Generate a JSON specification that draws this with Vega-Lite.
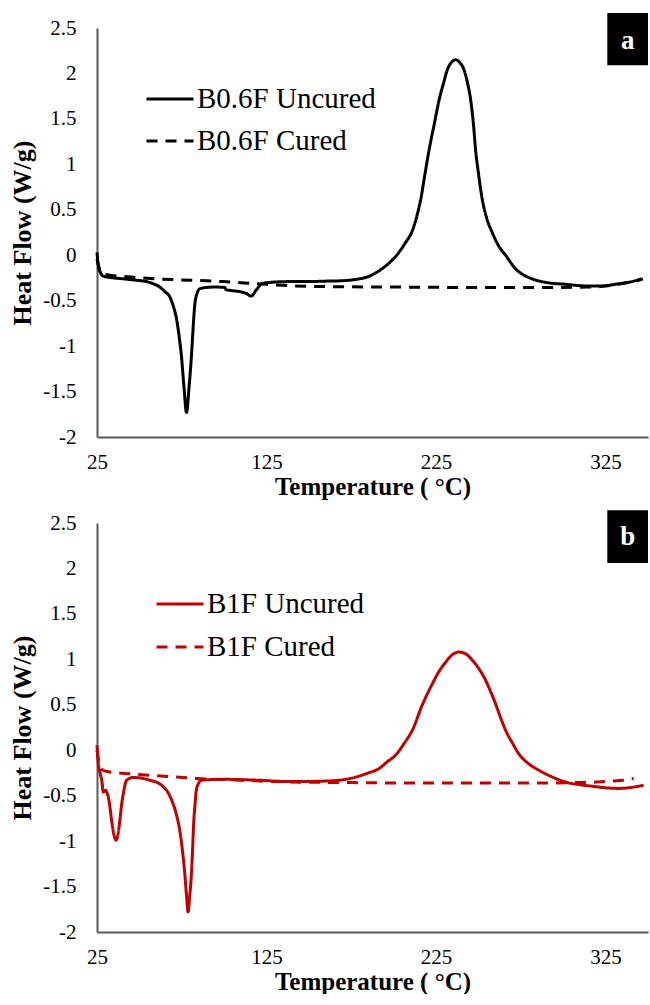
{
  "$schema": "https://vega.github.io/schema/vega-lite/v6.json",
  "background": "white",
  "padding": {"left": 9, "top": 13, "right": 0, "bottom": 0},
  "bounds": "flush",
  "spacing": 86,
  "config": {
    "view": {"stroke": null},
    "font": "Liberation Serif",
    "axis": {
      "grid": false, "ticks": false, "tickSize": 0,
      "domainColor": "#595959", "domainWidth": 2,
      "labelFont": "Liberation Serif", "labelFontSize": 21, "labelColor": "black", "labelFlush": false,
      "titleFont": "Liberation Serif", "titleFontSize": 25, "titleFontWeight": "bold", "titleColor": "black"
    },
    "axisX": {"labelPadding": 14, "titlePadding": 2},
    "axisY": {"labelPadding": 21, "titlePadding": 7, "titleFontSize": 26},
    "legend": {
      "orient": "none", "padding": 0, "labelLimit": 0,
      "labelFont": "Liberation Serif", "labelFontSize": 29, "labelColor": "black",
      "symbolType": "stroke", "symbolStrokeWidth": 3, "symbolSize": 2209, "labelOffset": 2
    }
  },
  "data": {"values": [
    {"p":"a","s":"B0.6F Uncured","T":25,"HF":0.03},
    {"p":"a","s":"B0.6F Uncured","T":25.8,"HF":-0.12},
    {"p":"a","s":"B0.6F Uncured","T":27,"HF":-0.19},
    {"p":"a","s":"B0.6F Uncured","T":28.7,"HF":-0.23},
    {"p":"a","s":"B0.6F Uncured","T":33,"HF":-0.245},
    {"p":"a","s":"B0.6F Uncured","T":40.5,"HF":-0.26},
    {"p":"a","s":"B0.6F Uncured","T":48,"HF":-0.275},
    {"p":"a","s":"B0.6F Uncured","T":54.2,"HF":-0.29},
    {"p":"a","s":"B0.6F Uncured","T":59,"HF":-0.32},
    {"p":"a","s":"B0.6F Uncured","T":62,"HF":-0.35},
    {"p":"a","s":"B0.6F Uncured","T":65,"HF":-0.4},
    {"p":"a","s":"B0.6F Uncured","T":68,"HF":-0.46},
    {"p":"a","s":"B0.6F Uncured","T":70,"HF":-0.56},
    {"p":"a","s":"B0.6F Uncured","T":71.9,"HF":-0.7},
    {"p":"a","s":"B0.6F Uncured","T":73.5,"HF":-0.9},
    {"p":"a","s":"B0.6F Uncured","T":74.8,"HF":-1.11},
    {"p":"a","s":"B0.6F Uncured","T":76.3,"HF":-1.45},
    {"p":"a","s":"B0.6F Uncured","T":77.8,"HF":-1.73},
    {"p":"a","s":"B0.6F Uncured","T":79.3,"HF":-1.45},
    {"p":"a","s":"B0.6F Uncured","T":80.7,"HF":-1.11},
    {"p":"a","s":"B0.6F Uncured","T":81.7,"HF":-0.8},
    {"p":"a","s":"B0.6F Uncured","T":82.6,"HF":-0.56},
    {"p":"a","s":"B0.6F Uncured","T":84,"HF":-0.42},
    {"p":"a","s":"B0.6F Uncured","T":85.6,"HF":-0.37},
    {"p":"a","s":"B0.6F Uncured","T":89.5,"HF":-0.355},
    {"p":"a","s":"B0.6F Uncured","T":95,"HF":-0.35},
    {"p":"a","s":"B0.6F Uncured","T":100.3,"HF":-0.355},
    {"p":"a","s":"B0.6F Uncured","T":101.2,"HF":-0.38},
    {"p":"a","s":"B0.6F Uncured","T":105,"HF":-0.39},
    {"p":"a","s":"B0.6F Uncured","T":109.1,"HF":-0.4},
    {"p":"a","s":"B0.6F Uncured","T":113,"HF":-0.42},
    {"p":"a","s":"B0.6F Uncured","T":116,"HF":-0.45},
    {"p":"a","s":"B0.6F Uncured","T":119,"HF":-0.38},
    {"p":"a","s":"B0.6F Uncured","T":122.8,"HF":-0.31},
    {"p":"a","s":"B0.6F Uncured","T":130,"HF":-0.295},
    {"p":"a","s":"B0.6F Uncured","T":140,"HF":-0.29},
    {"p":"a","s":"B0.6F Uncured","T":150,"HF":-0.29},
    {"p":"a","s":"B0.6F Uncured","T":160,"HF":-0.285},
    {"p":"a","s":"B0.6F Uncured","T":170,"HF":-0.28},
    {"p":"a","s":"B0.6F Uncured","T":178,"HF":-0.265},
    {"p":"a","s":"B0.6F Uncured","T":185,"HF":-0.235},
    {"p":"a","s":"B0.6F Uncured","T":191.5,"HF":-0.17},
    {"p":"a","s":"B0.6F Uncured","T":197,"HF":-0.09},
    {"p":"a","s":"B0.6F Uncured","T":201.3,"HF":-0.01},
    {"p":"a","s":"B0.6F Uncured","T":207,"HF":0.14},
    {"p":"a","s":"B0.6F Uncured","T":211,"HF":0.27},
    {"p":"a","s":"B0.6F Uncured","T":213.5,"HF":0.42},
    {"p":"a","s":"B0.6F Uncured","T":216,"HF":0.62},
    {"p":"a","s":"B0.6F Uncured","T":218.5,"HF":0.9},
    {"p":"a","s":"B0.6F Uncured","T":220.9,"HF":1.16},
    {"p":"a","s":"B0.6F Uncured","T":224,"HF":1.45},
    {"p":"a","s":"B0.6F Uncured","T":226.8,"HF":1.71},
    {"p":"a","s":"B0.6F Uncured","T":229.5,"HF":1.9},
    {"p":"a","s":"B0.6F Uncured","T":231.6,"HF":2.04},
    {"p":"a","s":"B0.6F Uncured","T":234,"HF":2.12},
    {"p":"a","s":"B0.6F Uncured","T":236.6,"HF":2.15},
    {"p":"a","s":"B0.6F Uncured","T":239,"HF":2.12},
    {"p":"a","s":"B0.6F Uncured","T":241.5,"HF":2.04},
    {"p":"a","s":"B0.6F Uncured","T":243.5,"HF":1.9},
    {"p":"a","s":"B0.6F Uncured","T":245.4,"HF":1.71},
    {"p":"a","s":"B0.6F Uncured","T":247,"HF":1.45},
    {"p":"a","s":"B0.6F Uncured","T":248.3,"HF":1.16},
    {"p":"a","s":"B0.6F Uncured","T":250,"HF":0.9},
    {"p":"a","s":"B0.6F Uncured","T":252.2,"HF":0.62},
    {"p":"a","s":"B0.6F Uncured","T":255,"HF":0.4},
    {"p":"a","s":"B0.6F Uncured","T":258.1,"HF":0.25},
    {"p":"a","s":"B0.6F Uncured","T":262,"HF":0.1},
    {"p":"a","s":"B0.6F Uncured","T":266,"HF":0.0},
    {"p":"a","s":"B0.6F Uncured","T":271.9,"HF":-0.15},
    {"p":"a","s":"B0.6F Uncured","T":276,"HF":-0.21},
    {"p":"a","s":"B0.6F Uncured","T":281.7,"HF":-0.26},
    {"p":"a","s":"B0.6F Uncured","T":290,"HF":-0.3},
    {"p":"a","s":"B0.6F Uncured","T":301.3,"HF":-0.32},
    {"p":"a","s":"B0.6F Uncured","T":310,"HF":-0.335},
    {"p":"a","s":"B0.6F Uncured","T":317,"HF":-0.34},
    {"p":"a","s":"B0.6F Uncured","T":325,"HF":-0.335},
    {"p":"a","s":"B0.6F Uncured","T":330.7,"HF":-0.32},
    {"p":"a","s":"B0.6F Uncured","T":338,"HF":-0.3},
    {"p":"a","s":"B0.6F Uncured","T":346.3,"HF":-0.26},
    {"p":"a","s":"B0.6F Cured","T":25,"HF":-0.04},
    {"p":"a","s":"B0.6F Cured","T":26,"HF":-0.12},
    {"p":"a","s":"B0.6F Cured","T":26.8,"HF":-0.17},
    {"p":"a","s":"B0.6F Cured","T":28.5,"HF":-0.2},
    {"p":"a","s":"B0.6F Cured","T":32.6,"HF":-0.22},
    {"p":"a","s":"B0.6F Cured","T":45,"HF":-0.24},
    {"p":"a","s":"B0.6F Cured","T":60,"HF":-0.26},
    {"p":"a","s":"B0.6F Cured","T":80,"HF":-0.275},
    {"p":"a","s":"B0.6F Cured","T":99.3,"HF":-0.29},
    {"p":"a","s":"B0.6F Cured","T":120,"HF":-0.315},
    {"p":"a","s":"B0.6F Cured","T":138.5,"HF":-0.335},
    {"p":"a","s":"B0.6F Cured","T":160,"HF":-0.345},
    {"p":"a","s":"B0.6F Cured","T":200,"HF":-0.35},
    {"p":"a","s":"B0.6F Cured","T":250,"HF":-0.355},
    {"p":"a","s":"B0.6F Cured","T":290,"HF":-0.355},
    {"p":"a","s":"B0.6F Cured","T":315,"HF":-0.35},
    {"p":"a","s":"B0.6F Cured","T":325,"HF":-0.34},
    {"p":"a","s":"B0.6F Cured","T":335,"HF":-0.31},
    {"p":"a","s":"B0.6F Cured","T":342,"HF":-0.29},
    {"p":"a","s":"B0.6F Cured","T":347,"HF":-0.26},
    {"p":"b","s":"B1F Uncured","T":25,"HF":0.055},
    {"p":"b","s":"B1F Uncured","T":25.8,"HF":-0.15},
    {"p":"b","s":"B1F Uncured","T":26.8,"HF":-0.25},
    {"p":"b","s":"B1F Uncured","T":27.8,"HF":-0.33},
    {"p":"b","s":"B1F Uncured","T":28.7,"HF":-0.46},
    {"p":"b","s":"B1F Uncured","T":30,"HF":-0.44},
    {"p":"b","s":"B1F Uncured","T":30.7,"HF":-0.46},
    {"p":"b","s":"B1F Uncured","T":31.6,"HF":-0.51},
    {"p":"b","s":"B1F Uncured","T":32.6,"HF":-0.62},
    {"p":"b","s":"B1F Uncured","T":33.6,"HF":-0.77},
    {"p":"b","s":"B1F Uncured","T":35,"HF":-0.93},
    {"p":"b","s":"B1F Uncured","T":36.2,"HF":-0.99},
    {"p":"b","s":"B1F Uncured","T":37.4,"HF":-0.92},
    {"p":"b","s":"B1F Uncured","T":38.5,"HF":-0.77},
    {"p":"b","s":"B1F Uncured","T":39.5,"HF":-0.6},
    {"p":"b","s":"B1F Uncured","T":40.5,"HF":-0.48},
    {"p":"b","s":"B1F Uncured","T":42.5,"HF":-0.33},
    {"p":"b","s":"B1F Uncured","T":46.4,"HF":-0.3},
    {"p":"b","s":"B1F Uncured","T":52,"HF":-0.31},
    {"p":"b","s":"B1F Uncured","T":56.2,"HF":-0.33},
    {"p":"b","s":"B1F Uncured","T":61,"HF":-0.36},
    {"p":"b","s":"B1F Uncured","T":64,"HF":-0.4},
    {"p":"b","s":"B1F Uncured","T":67,"HF":-0.47},
    {"p":"b","s":"B1F Uncured","T":69.9,"HF":-0.59},
    {"p":"b","s":"B1F Uncured","T":72,"HF":-0.72},
    {"p":"b","s":"B1F Uncured","T":73.8,"HF":-0.88},
    {"p":"b","s":"B1F Uncured","T":75.5,"HF":-1.12},
    {"p":"b","s":"B1F Uncured","T":76.8,"HF":-1.36},
    {"p":"b","s":"B1F Uncured","T":77.8,"HF":-1.6},
    {"p":"b","s":"B1F Uncured","T":78.7,"HF":-1.78},
    {"p":"b","s":"B1F Uncured","T":79.7,"HF":-1.6},
    {"p":"b","s":"B1F Uncured","T":80.7,"HF":-1.36},
    {"p":"b","s":"B1F Uncured","T":81.4,"HF":-1.08},
    {"p":"b","s":"B1F Uncured","T":82,"HF":-0.81},
    {"p":"b","s":"B1F Uncured","T":82.8,"HF":-0.6},
    {"p":"b","s":"B1F Uncured","T":83.6,"HF":-0.44},
    {"p":"b","s":"B1F Uncured","T":85,"HF":-0.36},
    {"p":"b","s":"B1F Uncured","T":86.6,"HF":-0.33},
    {"p":"b","s":"B1F Uncured","T":99.3,"HF":-0.32},
    {"p":"b","s":"B1F Uncured","T":120,"HF":-0.33},
    {"p":"b","s":"B1F Uncured","T":138.5,"HF":-0.345},
    {"p":"b","s":"B1F Uncured","T":159,"HF":-0.34},
    {"p":"b","s":"B1F Uncured","T":170,"HF":-0.325},
    {"p":"b","s":"B1F Uncured","T":178.7,"HF":-0.29},
    {"p":"b","s":"B1F Uncured","T":185,"HF":-0.25},
    {"p":"b","s":"B1F Uncured","T":191.5,"HF":-0.2},
    {"p":"b","s":"B1F Uncured","T":196,"HF":-0.13},
    {"p":"b","s":"B1F Uncured","T":201.3,"HF":-0.05},
    {"p":"b","s":"B1F Uncured","T":206,"HF":0.07},
    {"p":"b","s":"B1F Uncured","T":211,"HF":0.22},
    {"p":"b","s":"B1F Uncured","T":216.9,"HF":0.5},
    {"p":"b","s":"B1F Uncured","T":222.8,"HF":0.73},
    {"p":"b","s":"B1F Uncured","T":226.5,"HF":0.86},
    {"p":"b","s":"B1F Uncured","T":230.7,"HF":0.97},
    {"p":"b","s":"B1F Uncured","T":234.5,"HF":1.05},
    {"p":"b","s":"B1F Uncured","T":238.5,"HF":1.08},
    {"p":"b","s":"B1F Uncured","T":242.5,"HF":1.06},
    {"p":"b","s":"B1F Uncured","T":246.4,"HF":0.99},
    {"p":"b","s":"B1F Uncured","T":250.5,"HF":0.89},
    {"p":"b","s":"B1F Uncured","T":254.2,"HF":0.77},
    {"p":"b","s":"B1F Uncured","T":257.3,"HF":0.64},
    {"p":"b","s":"B1F Uncured","T":260.1,"HF":0.51},
    {"p":"b","s":"B1F Uncured","T":263,"HF":0.36},
    {"p":"b","s":"B1F Uncured","T":266,"HF":0.22},
    {"p":"b","s":"B1F Uncured","T":270,"HF":0.08},
    {"p":"b","s":"B1F Uncured","T":273.8,"HF":-0.04},
    {"p":"b","s":"B1F Uncured","T":279,"HF":-0.14},
    {"p":"b","s":"B1F Uncured","T":285.6,"HF":-0.22},
    {"p":"b","s":"B1F Uncured","T":293,"HF":-0.29},
    {"p":"b","s":"B1F Uncured","T":301.3,"HF":-0.35},
    {"p":"b","s":"B1F Uncured","T":310,"HF":-0.38},
    {"p":"b","s":"B1F Uncured","T":318.9,"HF":-0.4},
    {"p":"b","s":"B1F Uncured","T":326,"HF":-0.415},
    {"p":"b","s":"B1F Uncured","T":332.6,"HF":-0.42},
    {"p":"b","s":"B1F Uncured","T":340,"HF":-0.41},
    {"p":"b","s":"B1F Uncured","T":347.4,"HF":-0.385},
    {"p":"b","s":"B1F Cured","T":25,"HF":0.0},
    {"p":"b","s":"B1F Cured","T":25.8,"HF":-0.1},
    {"p":"b","s":"B1F Cured","T":26.8,"HF":-0.18},
    {"p":"b","s":"B1F Cured","T":28.5,"HF":-0.22},
    {"p":"b","s":"B1F Cured","T":32.6,"HF":-0.24},
    {"p":"b","s":"B1F Cured","T":45,"HF":-0.26},
    {"p":"b","s":"B1F Cured","T":60,"HF":-0.28},
    {"p":"b","s":"B1F Cured","T":83.6,"HF":-0.31},
    {"p":"b","s":"B1F Cured","T":110,"HF":-0.33},
    {"p":"b","s":"B1F Cured","T":138.5,"HF":-0.35},
    {"p":"b","s":"B1F Cured","T":170,"HF":-0.355},
    {"p":"b","s":"B1F Cured","T":200,"HF":-0.36},
    {"p":"b","s":"B1F Cured","T":250,"HF":-0.36},
    {"p":"b","s":"B1F Cured","T":290,"HF":-0.36},
    {"p":"b","s":"B1F Cured","T":310,"HF":-0.355},
    {"p":"b","s":"B1F Cured","T":320,"HF":-0.35},
    {"p":"b","s":"B1F Cured","T":328.7,"HF":-0.34},
    {"p":"b","s":"B1F Cured","T":335,"HF":-0.33},
    {"p":"b","s":"B1F Cured","T":341.5,"HF":-0.31}
  ]},
  "vconcat": [
    {
      "width": 551, "height": 409,
      "layer": [
        {
          "transform": [{"filter": "datum.p === 'a'"}],
          "mark": {"type": "line", "strokeWidth": 3, "interpolate": "monotone", "color": "black"},
          "encoding": {
            "x": {"field": "T", "type": "quantitative", "scale": {"domain": [25, 350], "nice": false, "zero": false}, "axis": {"values": [25, 125, 225, 325], "title": "Temperature ( °C)"}},
            "y": {"field": "HF", "type": "quantitative", "scale": {"domain": [-2, 2.5], "nice": false, "zero": false}, "axis": {"values": [-2, -1.5, -1, -0.5, 0, 0.5, 1, 1.5, 2, 2.5], "labelExpr": "'' + datum.value", "title": "Heat Flow (W/g)"}},
            "strokeDash": {"field": "s", "type": "nominal", "sort": ["B0.6F Uncured", "B0.6F Cured"], "scale": {"domain": ["B0.6F Uncured", "B0.6F Cured"], "range": [[1, 0], [11, 8]]}, "legend": {"title": null, "legendX": 48, "legendY": 46, "rowPadding": 2}}
          }
        },
        {
          "data": {"values": [{"lab": "a"}]},
          "mark": {"type": "rect", "color": "black"},
          "encoding": {"x": {"datum": 326}, "x2": {"datum": 350}, "y": {"datum": 2.09}, "y2": {"datum": 2.665}}
        },
        {
          "data": {"values": [{"lab": "a"}]},
          "mark": {"type": "text", "color": "white", "fontWeight": "bold", "fontSize": 27, "font": "Liberation Serif", "align": "center", "baseline": "middle"},
          "encoding": {"x": {"datum": 338}, "y": {"datum": 2.36}, "text": {"field": "lab"}}
        }
      ]
    },
    {
      "width": 551, "height": 409,
      "layer": [
        {
          "transform": [{"filter": "datum.p === 'b'"}],
          "mark": {"type": "line", "strokeWidth": 3, "interpolate": "monotone", "color": "#C00000"},
          "encoding": {
            "x": {"field": "T", "type": "quantitative", "scale": {"domain": [25, 350], "nice": false, "zero": false}, "axis": {"values": [25, 125, 225, 325], "title": "Temperature ( °C)"}},
            "y": {"field": "HF", "type": "quantitative", "scale": {"domain": [-2, 2.5], "nice": false, "zero": false}, "axis": {"values": [-2, -1.5, -1, -0.5, 0, 0.5, 1, 1.5, 2, 2.5], "labelExpr": "'' + datum.value", "title": "Heat Flow (W/g)"}},
            "strokeDash": {"field": "s", "type": "nominal", "sort": ["B1F Uncured", "B1F Cured"], "scale": {"domain": ["B1F Uncured", "B1F Cured"], "range": [[1, 0], [11, 8]]}, "legend": {"title": null, "legendX": 58, "legendY": 56, "rowPadding": 3}}
          }
        },
        {
          "data": {"values": [{"lab": "b"}]},
          "mark": {"type": "rect", "color": "black"},
          "encoding": {"x": {"datum": 326}, "x2": {"datum": 350}, "y": {"datum": 2.06}, "y2": {"datum": 2.64}}
        },
        {
          "data": {"values": [{"lab": "b"}]},
          "mark": {"type": "text", "color": "white", "fontWeight": "bold", "fontSize": 27, "font": "Liberation Serif", "align": "center", "baseline": "middle"},
          "encoding": {"x": {"datum": 338}, "y": {"datum": 2.35}, "text": {"field": "lab"}}
        }
      ]
    }
  ],
  "resolve": {"scale": {"strokeDash": "independent"}, "legend": {"strokeDash": "independent"}}
}
